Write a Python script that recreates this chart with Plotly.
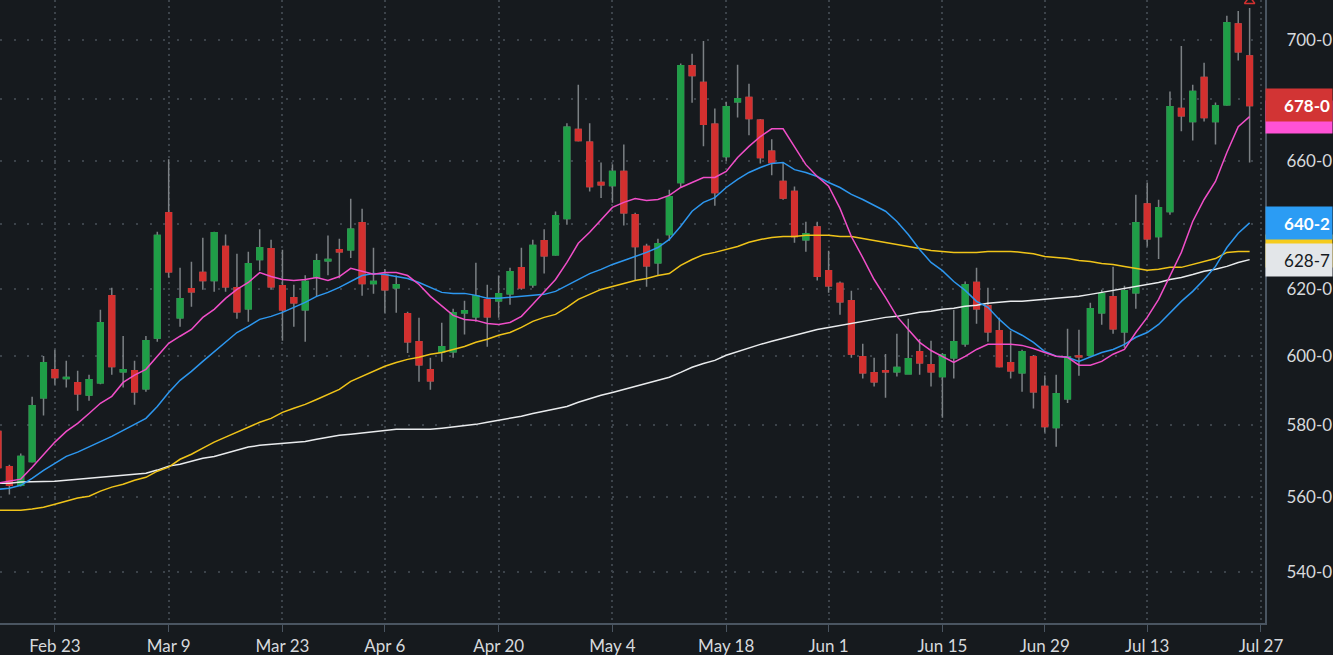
import math
import plotly.graph_objects as go

# ---------------- data ----------------
dates = [
    "2026-02-13", "2026-02-17", "2026-02-18", "2026-02-19", "2026-02-20",
    "2026-02-23", "2026-02-24", "2026-02-25", "2026-02-26", "2026-02-27",
    "2026-03-02", "2026-03-03", "2026-03-04", "2026-03-05", "2026-03-06",
    "2026-03-09", "2026-03-10", "2026-03-11", "2026-03-12", "2026-03-13",
    "2026-03-16", "2026-03-17", "2026-03-18", "2026-03-19", "2026-03-20",
    "2026-03-23", "2026-03-24", "2026-03-25", "2026-03-26", "2026-03-27",
    "2026-03-30", "2026-03-31", "2026-04-01", "2026-04-02", "2026-04-06",
    "2026-04-07", "2026-04-08", "2026-04-09", "2026-04-10", "2026-04-13",
    "2026-04-14", "2026-04-15", "2026-04-16", "2026-04-17", "2026-04-20",
    "2026-04-21", "2026-04-22", "2026-04-23", "2026-04-24", "2026-04-27",
    "2026-04-28", "2026-04-29", "2026-04-30", "2026-05-01", "2026-05-04",
    "2026-05-05", "2026-05-06", "2026-05-07", "2026-05-08", "2026-05-11",
    "2026-05-12", "2026-05-13", "2026-05-14", "2026-05-15", "2026-05-18",
    "2026-05-19", "2026-05-20", "2026-05-21", "2026-05-22", "2026-05-26",
    "2026-05-27", "2026-05-28", "2026-05-29", "2026-06-01", "2026-06-02",
    "2026-06-03", "2026-06-04", "2026-06-05", "2026-06-08", "2026-06-09",
    "2026-06-10", "2026-06-11", "2026-06-12", "2026-06-15", "2026-06-16",
    "2026-06-17", "2026-06-18", "2026-06-22", "2026-06-23", "2026-06-24",
    "2026-06-25", "2026-06-26", "2026-06-29", "2026-06-30", "2026-07-01",
    "2026-07-02", "2026-07-06", "2026-07-07", "2026-07-08", "2026-07-09",
    "2026-07-10", "2026-07-13", "2026-07-14", "2026-07-15", "2026-07-16",
    "2026-07-17", "2026-07-20", "2026-07-21", "2026-07-22", "2026-07-23",
    "2026-07-24",
]

opens = [
    578.3, 568.4, 563.3, 569.9, 587.9, 596.0, 593.4, 592.2, 588.7, 592.2,
    617.9, 595.4, 595.7, 590.5, 605.3, 643.4, 611.3, 620.0, 624.9, 622.5,
    632.9, 620.3, 614.0, 628.9, 632.2, 620.9, 617.3, 613.7, 623.5, 628.5,
    631.9, 631.9, 640.3, 621.6, 624.3, 620.3, 612.5, 604.2, 596.0, 601.2,
    601.2, 612.8, 611.6, 616.7, 616.4, 618.5, 626.4, 621.2, 634.7, 630.4,
    641.6, 670.1, 665.9, 653.0, 652.0, 656.5, 642.8, 632.9, 627.9, 636.6,
    653.0, 691.3, 685.6, 671.8, 661.3, 679.2, 680.6, 673.1, 663.0, 653.3,
    650.1, 635.0, 639.0, 625.5, 621.6, 616.4, 599.8, 595.1, 595.7, 595.4,
    594.8, 601.2, 597.4, 594.0, 599.5, 603.6, 621.9, 614.9, 607.4, 598.0,
    595.1, 599.8, 591.1, 579.4, 587.6, 600.0, 600.3, 612.8, 617.6, 607.1,
    618.8, 646.2, 636.0, 643.8, 677.0, 672.7, 687.3, 672.7, 678.2, 705.5,
    694.6,
]
highs = [
    579.4, 569.0, 572.1, 588.2, 600.0, 601.8, 598.6, 595.7, 594.5, 613.7,
    620.3, 605.9, 598.6, 605.9, 637.5, 660.4, 626.4, 628.2, 635.6, 637.5,
    636.6, 630.7, 631.3, 638.3, 635.0, 631.9, 621.2, 624.1, 630.7, 636.3,
    635.3, 647.8, 644.7, 632.5, 626.0, 624.0, 613.1, 611.3, 599.5, 609.8,
    614.0, 616.4, 627.9, 621.2, 624.0, 626.4, 632.5, 635.0, 638.3, 643.8,
    672.1, 684.9, 672.1, 659.4, 658.8, 665.2, 643.4, 633.8, 635.3, 650.7,
    692.0, 695.3, 699.7, 677.0, 679.2, 691.6, 685.2, 673.5, 666.9, 659.4,
    651.7, 640.6, 640.6, 631.6, 622.2, 619.4, 603.6, 599.5, 600.6, 606.5,
    611.0, 605.0, 604.5, 600.9, 613.7, 622.2, 626.4, 620.3, 611.3, 607.4,
    601.8, 600.3, 594.3, 594.5, 608.0, 607.7, 615.8, 619.7, 626.7, 620.9,
    649.1, 653.0, 647.5, 682.6, 698.0, 684.9, 692.3, 679.0, 708.3, 710.0,
    711.0,
]
lows = [
    567.1, 560.8, 563.0, 569.6, 582.8, 591.6, 590.8, 584.2, 587.0, 591.8,
    594.5, 590.8, 585.9, 589.6, 604.2, 623.4, 608.6, 614.6, 619.7, 619.1,
    619.1, 611.0, 610.1, 625.5, 619.7, 604.5, 608.6, 604.2, 617.6, 624.1,
    623.2, 629.4, 617.9, 618.5, 612.8, 612.8, 600.9, 592.5, 590.2, 598.3,
    599.5, 606.3, 610.1, 602.7, 611.3, 615.2, 619.7, 620.3, 624.6, 630.1,
    639.7, 666.2, 650.1, 648.1, 646.6, 639.4, 622.5, 620.6, 624.0, 634.7,
    651.4, 678.9, 664.6, 645.6, 659.7, 674.0, 668.2, 659.1, 655.3, 647.5,
    634.1, 631.3, 622.5, 618.8, 612.2, 599.5, 593.4, 591.1, 587.9, 594.0,
    594.6, 594.5, 591.1, 582.2, 593.4, 602.7, 609.5, 604.2, 596.6, 593.4,
    589.6, 584.8, 578.0, 574.0, 586.4, 594.2, 600.0, 609.2, 606.5, 602.4,
    614.0, 632.9, 629.1, 642.8, 669.5, 666.5, 672.7, 665.2, 677.9, 693.0,
    659.4,
]
closes = [
    568.2, 563.3, 571.3, 585.6, 598.0, 593.7, 593.7, 589.0, 593.1, 609.8,
    596.9, 596.0, 589.6, 604.5, 636.3, 625.2, 617.0, 619.1, 622.5, 637.2,
    620.6, 613.1, 627.6, 632.5, 620.6, 613.7, 615.8, 622.2, 628.5, 628.9,
    631.3, 638.3, 621.6, 622.2, 619.7, 621.2, 604.2, 597.4, 592.8, 602.7,
    612.8, 613.4, 617.9, 611.6, 618.5, 625.2, 620.3, 633.2, 630.1, 642.5,
    670.8, 666.5, 651.7, 652.3, 656.5, 643.4, 632.9, 627.0, 633.8, 648.5,
    691.3, 688.0, 671.8, 649.8, 677.6, 680.2, 673.7, 661.0, 659.4, 648.1,
    636.0, 636.9, 623.8, 620.9, 616.1, 600.6, 595.1, 592.5, 595.4, 596.6,
    599.2, 598.0, 595.4, 600.3, 604.2, 621.2, 614.0, 607.1, 596.9, 595.7,
    601.2, 589.6, 579.7, 589.0, 599.8, 599.8, 614.0, 618.5, 608.0, 619.4,
    640.3, 635.3, 645.0, 677.6, 674.6, 682.6, 674.0, 677.9, 705.9, 696.0,
    678.0,
]

ma_pink = [
    563.9, 564.4, 565.0, 568.3, 571.9, 575.3, 578.3, 580.6, 583.4, 586.3,
    588.3, 592.3, 594.4, 596.1, 599.9, 603.7, 605.8, 607.8, 611.4, 613.8,
    617.1, 619.8, 621.9, 624.9, 623.7, 622.8, 622.5, 622.8, 623.4, 622.5,
    623.7, 626.2, 625.3, 624.4, 624.9, 624.9, 624.0, 621.3, 617.7, 614.7,
    612.0, 610.8, 610.5, 609.6, 609.3, 609.9, 611.7, 615.3, 618.9, 622.8,
    628.0, 633.9, 637.3, 641.3, 645.1, 646.7, 647.9, 647.3, 647.6, 648.9,
    651.4, 653.0, 654.6, 654.6, 656.5, 661.0, 664.6, 667.8, 670.3, 670.3,
    664.6, 658.7, 654.9, 651.8, 644.8, 636.0, 629.5, 622.8, 617.4, 611.7,
    607.8, 604.0, 601.6, 599.9, 598.1, 599.9, 601.9, 603.4, 603.4, 603.4,
    603.1, 602.2, 601.0, 599.9, 599.6, 597.3, 597.3, 598.4, 600.5, 601.9,
    606.9, 611.4, 616.8, 623.7, 631.1, 640.7, 647.6, 653.3, 662.6, 671.0,
    674.3,
]
ma_blue = [
    562.2, 562.5, 563.3, 565.2, 567.4, 569.4, 571.3, 572.5, 573.9, 575.3,
    576.9, 578.6, 580.3, 582.0, 585.4, 589.4, 592.9, 595.5, 598.4, 601.3,
    604.0, 606.9, 608.7, 610.8, 611.7, 612.9, 614.4, 615.9, 617.7, 618.9,
    620.4, 622.2, 624.0, 624.6, 624.3, 623.7, 623.1, 621.9, 620.4, 618.9,
    618.6, 618.6, 618.0, 617.1, 617.1, 617.4, 617.7, 618.0, 618.3, 619.2,
    621.0, 622.8, 624.6, 625.9, 627.4, 628.6, 629.8, 631.1, 632.6, 635.1,
    639.2, 643.9, 646.7, 648.2, 651.4, 654.0, 656.2, 657.8, 659.1, 659.4,
    657.1, 656.2, 654.9, 653.0, 651.4, 649.2, 647.6, 645.7, 643.9, 640.7,
    636.6, 632.0, 628.0, 625.5, 622.2, 619.5, 616.2, 614.4, 610.8, 607.8,
    606.1, 604.0, 601.3, 599.9, 599.6, 598.4, 599.6, 601.0, 601.9, 603.4,
    605.5, 606.9, 609.3, 612.9, 616.2, 619.2, 622.8, 626.8, 632.6, 637.0,
    640.25,
]
ma_yellow = [
    556.5, 556.5, 556.5, 556.8, 557.3, 558.1, 559.0, 559.8, 560.3, 561.7,
    562.8, 563.6, 564.7, 565.5, 567.2, 568.3, 570.5, 571.9, 573.6, 575.3,
    576.7, 578.1, 579.5, 580.9, 582.0, 583.7, 584.9, 586.0, 587.4, 588.9,
    590.3, 592.6, 594.1, 595.5, 597.0, 598.1, 599.0, 599.6, 600.5, 601.0,
    601.9, 602.8, 604.0, 604.9, 606.1, 606.9, 608.4, 610.2, 611.4, 612.3,
    614.4, 616.8, 618.3, 619.8, 620.7, 621.6, 622.5, 623.1, 624.0, 624.6,
    627.1, 628.9, 630.4, 631.1, 632.0, 632.9, 634.2, 635.1, 635.7, 636.0,
    636.0, 636.4, 636.4, 636.4, 636.0, 636.0, 635.4, 634.8, 634.2, 633.5,
    632.9, 632.3, 631.7, 631.4, 631.1, 631.1, 631.1, 631.4, 631.4, 631.4,
    631.1, 630.7, 629.8, 629.5, 629.2, 628.6, 628.3, 627.7, 627.4, 626.8,
    626.2, 625.6, 625.9, 626.5, 626.5, 627.4, 628.3, 629.2, 631.1, 631.4,
    631.4,
]
ma_white = [
    563.9, 563.9, 564.2, 564.2, 564.4, 564.4, 564.7, 565.0, 565.3, 565.5,
    565.8, 566.1, 566.4, 566.6, 567.5, 568.6, 569.1, 569.9, 570.8, 571.3,
    572.2, 573.0, 573.9, 574.4, 574.7, 575.0, 575.3, 575.5, 576.1, 576.7,
    577.2, 577.5, 577.8, 578.3, 578.6, 578.9, 578.9, 578.9, 578.9, 579.2,
    579.5, 579.8, 580.3, 580.9, 581.4, 582.0, 582.6, 583.4, 584.0, 584.6,
    585.4, 586.6, 587.7, 588.6, 589.4, 590.3, 591.2, 592.0, 592.9, 593.8,
    595.2, 596.7, 597.8, 598.7, 600.2, 601.3, 602.5, 603.4, 604.3, 605.2,
    606.1, 606.9, 607.8, 608.4, 609.0, 609.6, 610.2, 610.8, 611.4, 611.7,
    612.3, 612.9, 613.2, 613.8, 614.1, 614.7, 615.0, 615.6, 615.9, 616.2,
    616.2, 616.5, 616.8, 617.1, 617.4, 617.7, 618.3, 618.9, 619.5, 620.1,
    620.7, 621.3, 621.9, 622.8, 623.4, 624.3, 625.3, 625.9, 626.8, 628.0,
    628.875,
]

holidays = ["2026-02-16", "2026-04-03", "2026-05-25", "2026-06-19", "2026-07-03"]
tick_dates = ["2026-02-23", "2026-03-09", "2026-03-23", "2026-04-06", "2026-04-20",
              "2026-05-04", "2026-05-18", "2026-06-01", "2026-06-15", "2026-06-29",
              "2026-07-13", "2026-07-27"]
tick_labels = ["Feb 23", "Mar 9", "Mar 23", "Apr 6", "Apr 20", "May 4", "May 18",
               "Jun 1", "Jun 15", "Jun 29", "Jul 13", "Jul 27"]
price_ticks = [540, 560, 580, 600, 620, 640, 660, 680, 700]
# 640 and 680 labels sit under the price boxes in the reference (not visible)
price_tick_labels = ["540-0", "560-0", "580-0", "600-0", "620-0", "",
                     "660-0", "", "700-0"]
high_flag_price = 713.4
x_range = ["2026-02-13 16:13", "2026-07-27 20:27"]
y_range_prices = [526.7, 713.8]

# ---------------- styling ----------------
BG = "#161a1e"
GRID = "#3c434a"
AXIS = "#4a5561"
TXT = "#d6d9dc"
WICK = "#7b8084"
INC = "#1f9e47"
DEC = "#d3302f"
PINK, PINK_BOX = "#f04ec8", "#ff52d6"
BLUE, BLUE_BOX = "#2d97ef", "#2b9cf4"
YEL, YEL_BOX = "#f0c419", "#f5cb1d"
WHT, WHT_BOX = "#e9ebed", "#e3e6e9"
RED_BOX = "#d23434"
FONT = "Lato"


def fmt(v):
    whole = int(v)
    eighth = int(round((v - whole) * 8))
    return f"{whole}-{eighth}"


x = [d + " 12:00" for d in dates]
body_hi = [max(o, c) for o, c in zip(opens, closes)]
body_lo = [min(o, c) for o, c in zip(opens, closes)]

fig = go.Figure()
# wicks (grey)
fig.add_trace(go.Candlestick(
    x=x, open=opens, high=highs, low=lows, close=closes,
    increasing=dict(line=dict(color=WICK, width=1.5), fillcolor=WICK),
    decreasing=dict(line=dict(color=WICK, width=1.5), fillcolor=WICK),
    whiskerwidth=0, showlegend=False, hoverinfo="skip"))
# coloured bodies
fig.add_trace(go.Candlestick(
    x=x, open=opens, high=body_hi, low=body_lo, close=closes,
    increasing=dict(line=dict(color=INC, width=1.5), fillcolor=INC),
    decreasing=dict(line=dict(color=DEC, width=1.5), fillcolor=DEC),
    whiskerwidth=0, showlegend=False, hoverinfo="skip"))

for series, col in [(ma_white, WHT), (ma_yellow, YEL), (ma_blue, BLUE), (ma_pink, PINK)]:
    fig.add_trace(go.Scatter(x=x, y=series, mode="lines",
                             line=dict(color=col, width=1.5),
                             showlegend=False, hoverinfo="skip"))

fig.add_trace(go.Scatter(x=[x[-1]], y=[high_flag_price], mode="markers",
                         marker=dict(symbol="triangle-up-open", size=9,
                                     color=DEC, line=dict(color=DEC, width=1.5)),
                         showlegend=False, hoverinfo="skip"))

# right-hand price boxes (drawn in stacking order; pink/yellow are hidden behind)
boxes = [
    (ma_pink[-1], PINK_BOX, "#ffffff", False, False),
    (ma_yellow[-1], YEL_BOX, BG, False, False),
    (closes[-1], RED_BOX, "#ffffff", True, True),
    (ma_blue[-1], BLUE_BOX, "#ffffff", True, True),
    (ma_white[-1], WHT_BOX, BG, False, True),
]
annotations = []
for val, bg, fc, bold, show_text in boxes:
    t = fmt(val) if show_text else " "
    if bold and show_text:
        t = "<b>" + t + "</b>"
    annotations.append(dict(
        x=1, xref="paper", xanchor="left",
        y=math.log10(val), yref="y", yanchor="middle",
        text=t, showarrow=False, bgcolor=bg,
        font=dict(color=fc, size=17, family=FONT),
        width=62, height=28, borderpad=2, align="right"))

fig.update_layout(
    width=1333, height=655,
    margin=dict(l=0, r=68, t=0, b=32),
    paper_bgcolor=BG, plot_bgcolor=BG,
    showlegend=False,
    font=dict(family=FONT, color=TXT, size=17),
    annotations=annotations,
    xaxis=dict(
        type="date", range=x_range,
        rangebreaks=[dict(bounds=["sat", "mon"]), dict(values=holidays)],
        rangeslider=dict(visible=False),
        tickmode="array",
        tickvals=[d + " 12:00" for d in tick_dates], ticktext=tick_labels,
        showgrid=True, gridcolor=GRID, gridwidth=1.5, griddash="2px,4px",
        showline=True, linecolor=AXIS, linewidth=2,
        ticks="outside", ticklen=7, tickcolor=AXIS, tickwidth=1,
        tickfont=dict(size=17, color=TXT, family=FONT),
        zeroline=False, fixedrange=True,
    ),
    yaxis=dict(
        type="log", side="right",
        range=[math.log10(y_range_prices[0]), math.log10(y_range_prices[1])],
        tickmode="array", tickvals=price_ticks, ticktext=price_tick_labels,
        showgrid=True, gridcolor=GRID, gridwidth=1.5, griddash="2px,11.6px",
        showline=True, linecolor=AXIS, linewidth=2,
        ticks="", ticklabelstandoff=16,
        tickfont=dict(size=17, color=TXT, family=FONT),
        zeroline=False, fixedrange=True,
    ),
)

fig.write_html("out.html")
